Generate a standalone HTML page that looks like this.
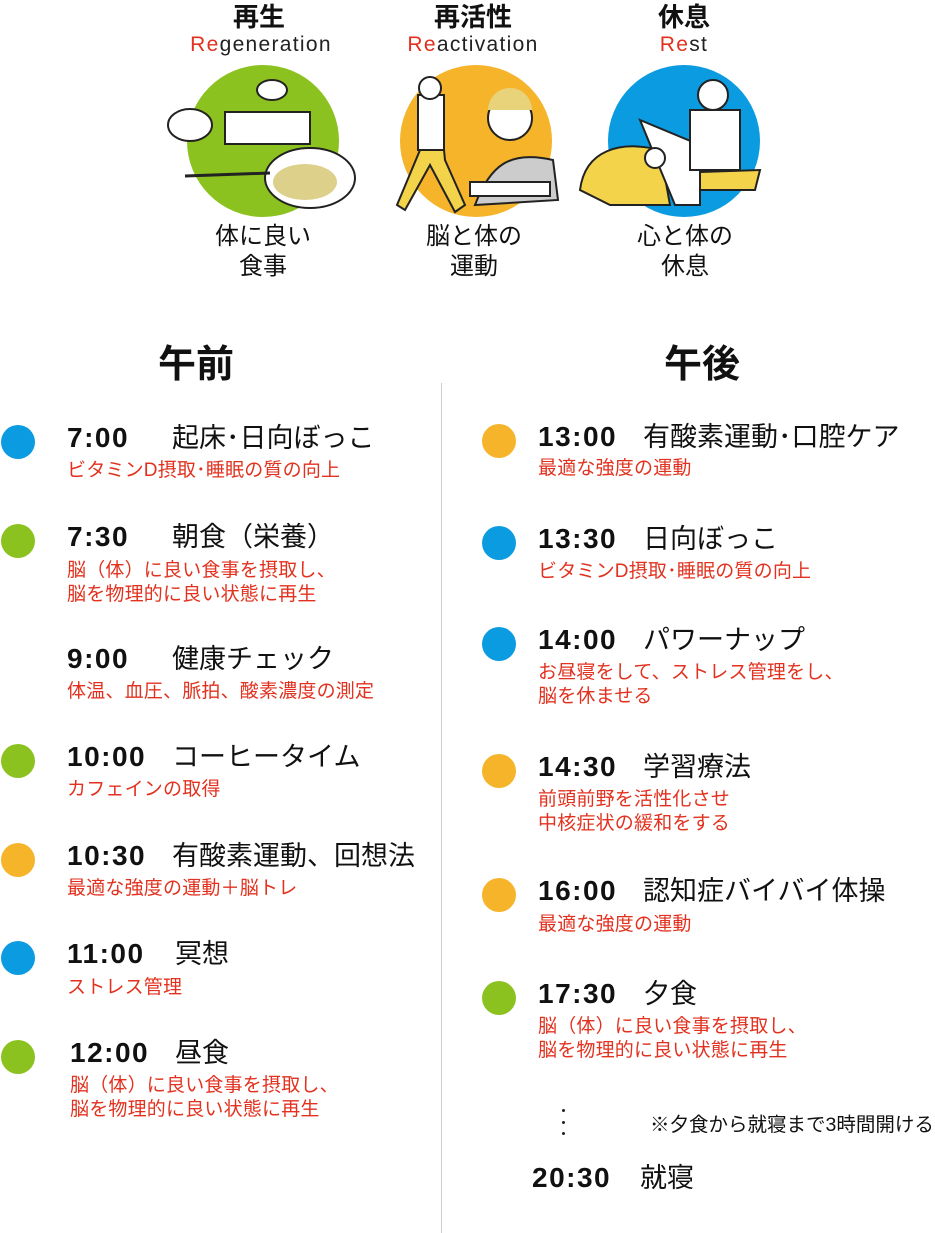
<!DOCTYPE html>
<html><head><meta charset="utf-8"><style>
body{margin:0;width:935px;height:1233px;background:#fff;position:relative;overflow:hidden;font-family:"Liberation Sans","Noto Sans CJK JP",sans-serif;color:#111}
.a{position:absolute;white-space:nowrap}
.t{font-size:28px;font-weight:bold;line-height:30px;letter-spacing:1.5px}
.n{font-size:27px;line-height:30px;letter-spacing:0}
.s{font-size:19px;line-height:24px;color:#e2321f;letter-spacing:0.2px}
.d{position:absolute;width:34px;height:34px;border-radius:50%}
.b{background:#0a9be0}.g{background:#8cc21f}.o{background:#f5b42a}
.h{font-size:38px;font-weight:bold;line-height:44px}
.ti{font-size:26px;font-weight:bold;line-height:30px;text-align:center;width:200px}
.en{font-size:21px;line-height:22px;text-align:center;width:200px;color:#222;letter-spacing:1.3px}
.en span{color:#e2321f}
.cap{font-size:24px;line-height:30px;text-align:center;width:200px}
</style></head><body>
<div class="a ti" style="left:159px;top:2px">再生</div>
<div class="a en" style="left:161px;top:34px"><span>Re</span>generation</div>
<div class="a ti" style="left:373px;top:2px">再活性</div>
<div class="a en" style="left:373px;top:34px"><span>Re</span>activation</div>
<div class="a ti" style="left:584px;top:2px">休息</div>
<div class="a en" style="left:584px;top:34px"><span>Re</span>st</div>

<svg class="a" style="left:0;top:0" width="935" height="230">
<ellipse cx="263" cy="141" rx="76" ry="76" fill="#8cc21f"/>
<rect x="225" y="112" width="85" height="32" fill="#fff" stroke="#222" stroke-width="2"/>
<ellipse cx="190" cy="125" rx="22" ry="16" fill="#fff" stroke="#222" stroke-width="2"/>
<ellipse cx="272" cy="90" rx="15" ry="10" fill="#fff" stroke="#222" stroke-width="2"/>
<ellipse cx="310" cy="178" rx="45" ry="30" fill="#fff" stroke="#222" stroke-width="2"/>
<ellipse cx="305" cy="182" rx="32" ry="18" fill="#ddd08a"/>
<line x1="185" y1="176" x2="270" y2="173" stroke="#222" stroke-width="3"/>
<ellipse cx="476" cy="141" rx="76" ry="76" fill="#f5b42a"/>
<path d="M475 205 C490 165 510 150 553 160 L558 200 Z" fill="#ccc" stroke="#222" stroke-width="2"/>
<circle cx="510" cy="118" r="22" fill="#fff" stroke="#222" stroke-width="2"/>
<path d="M488 110 a22 22 0 0 1 44 0 Z" fill="#e8d37a"/>
<rect x="470" y="182" width="80" height="14" fill="#fff" stroke="#222" stroke-width="2"/>
<path d="M420 110 L440 110 L445 160 L465 205 L455 212 L430 165 L405 210 L397 205 L420 150 Z" fill="#f2d34a" stroke="#222" stroke-width="2"/>
<rect x="418" y="95" width="26" height="55" fill="#fff" stroke="#222" stroke-width="2"/>
<circle cx="430" cy="88" r="11" fill="#fff" stroke="#222" stroke-width="2"/>
<ellipse cx="684" cy="141" rx="76" ry="76" fill="#0a9be0"/>
<path d="M580 190 C585 150 620 140 660 150 L670 205 L610 205 Z" fill="#f2d34a" stroke="#222" stroke-width="2"/>
<path d="M640 120 L700 145 L700 205 L675 205 Z" fill="#fff" stroke="#222" stroke-width="2"/>
<rect x="690" y="110" width="50" height="60" fill="#fff" stroke="#222" stroke-width="2"/>
<circle cx="713" cy="95" r="15" fill="#fff" stroke="#222" stroke-width="2"/>
<path d="M700 172 L760 170 L755 190 L700 190 Z" fill="#f2d34a" stroke="#222" stroke-width="2"/>
<circle cx="655" cy="158" r="10" fill="#fff" stroke="#222" stroke-width="2"/>
</svg>
<div class="a cap" style="left:163px;top:222px">体に良い<br>食事</div>
<div class="a cap" style="left:374px;top:222px">脳と体の<br>運動</div>
<div class="a cap" style="left:585px;top:222px">心と体の<br>休息</div>

<div class="a h" style="left:158px;top:343px">午前</div>
<div class="a h" style="left:664px;top:343px">午後</div>
<div class="a" style="left:441px;top:383px;width:1px;height:850px;background:#ccc"></div>

<!-- left -->
<div class="d b" style="left:1px;top:425px"></div>
<div class="a t" style="left:67px;top:423px">7:00</div><div class="a n" style="left:172px;top:423px">起床･日向ぼっこ</div>
<div class="a s" style="left:67px;top:459px">ビタミンD摂取･睡眠の質の向上</div>

<div class="d g" style="left:1px;top:524px"></div>
<div class="a t" style="left:67px;top:522px">7:30</div><div class="a n" style="left:172px;top:522px">朝食（栄養）</div>
<div class="a s" style="left:67px;top:559px">脳（体）に良い食事を摂取し、<br>脳を物理的に良い状態に再生</div>

<div class="a t" style="left:67px;top:644px">9:00</div><div class="a n" style="left:172px;top:644px">健康チェック</div>
<div class="a s" style="left:67px;top:680px">体温、血圧、脈拍、酸素濃度の測定</div>

<div class="d g" style="left:1px;top:744px"></div>
<div class="a t" style="left:67px;top:742px">10:00</div><div class="a n" style="left:172px;top:742px">コーヒータイム</div>
<div class="a s" style="left:67px;top:778px">カフェインの取得</div>

<div class="d o" style="left:1px;top:843px"></div>
<div class="a t" style="left:67px;top:841px">10:30</div><div class="a n" style="left:172px;top:841px">有酸素運動、回想法</div>
<div class="a s" style="left:67px;top:877px">最適な強度の運動＋脳トレ</div>

<div class="d b" style="left:1px;top:941px"></div>
<div class="a t" style="left:67px;top:939px">11:00</div><div class="a n" style="left:175px;top:939px">冥想</div>
<div class="a s" style="left:67px;top:976px">ストレス管理</div>

<div class="d g" style="left:1px;top:1040px"></div>
<div class="a t" style="left:70px;top:1038px">12:00</div><div class="a n" style="left:175px;top:1038px">昼食</div>
<div class="a s" style="left:70px;top:1074px">脳（体）に良い食事を摂取し、<br>脳を物理的に良い状態に再生</div>

<!-- right -->
<div class="d o" style="left:482px;top:424px"></div>
<div class="a t" style="left:538px;top:422px">13:00</div><div class="a n" style="left:643px;top:422px">有酸素運動･口腔ケア</div>
<div class="a s" style="left:538px;top:457px">最適な強度の運動</div>

<div class="d b" style="left:482px;top:526px"></div>
<div class="a t" style="left:538px;top:524px">13:30</div><div class="a n" style="left:643px;top:524px">日向ぼっこ</div>
<div class="a s" style="left:538px;top:560px">ビタミンD摂取･睡眠の質の向上</div>

<div class="d b" style="left:482px;top:627px"></div>
<div class="a t" style="left:538px;top:625px">14:00</div><div class="a n" style="left:643px;top:625px">パワーナップ</div>
<div class="a s" style="left:538px;top:661px">お昼寝をして、ストレス管理をし、<br>脳を休ませる</div>

<div class="d o" style="left:482px;top:754px"></div>
<div class="a t" style="left:538px;top:752px">14:30</div><div class="a n" style="left:643px;top:752px">学習療法</div>
<div class="a s" style="left:538px;top:788px">前頭前野を活性化させ<br>中核症状の緩和をする</div>

<div class="d o" style="left:482px;top:878px"></div>
<div class="a t" style="left:538px;top:876px">16:00</div><div class="a n" style="left:643px;top:876px">認知症バイバイ体操</div>
<div class="a s" style="left:538px;top:913px">最適な強度の運動</div>

<div class="d g" style="left:482px;top:981px"></div>
<div class="a t" style="left:538px;top:979px">17:30</div><div class="a n" style="left:643px;top:979px">夕食</div>
<div class="a s" style="left:538px;top:1015px">脳（体）に良い食事を摂取し、<br>脳を物理的に良い状態に再生</div>

<div class="a" style="left:562px;top:1109px;width:3px;height:3px;border-radius:50%;background:#222"></div>
<div class="a" style="left:562px;top:1121px;width:3px;height:3px;border-radius:50%;background:#222"></div>
<div class="a" style="left:562px;top:1132px;width:3px;height:3px;border-radius:50%;background:#222"></div>
<div class="a" style="left:650px;top:1112px;font-size:19.5px;line-height:26px">※夕食から就寝まで3時間開ける</div>

<div class="a t" style="left:532px;top:1163px">20:30</div><div class="a n" style="left:640px;top:1163px">就寝</div>
</body></html>
